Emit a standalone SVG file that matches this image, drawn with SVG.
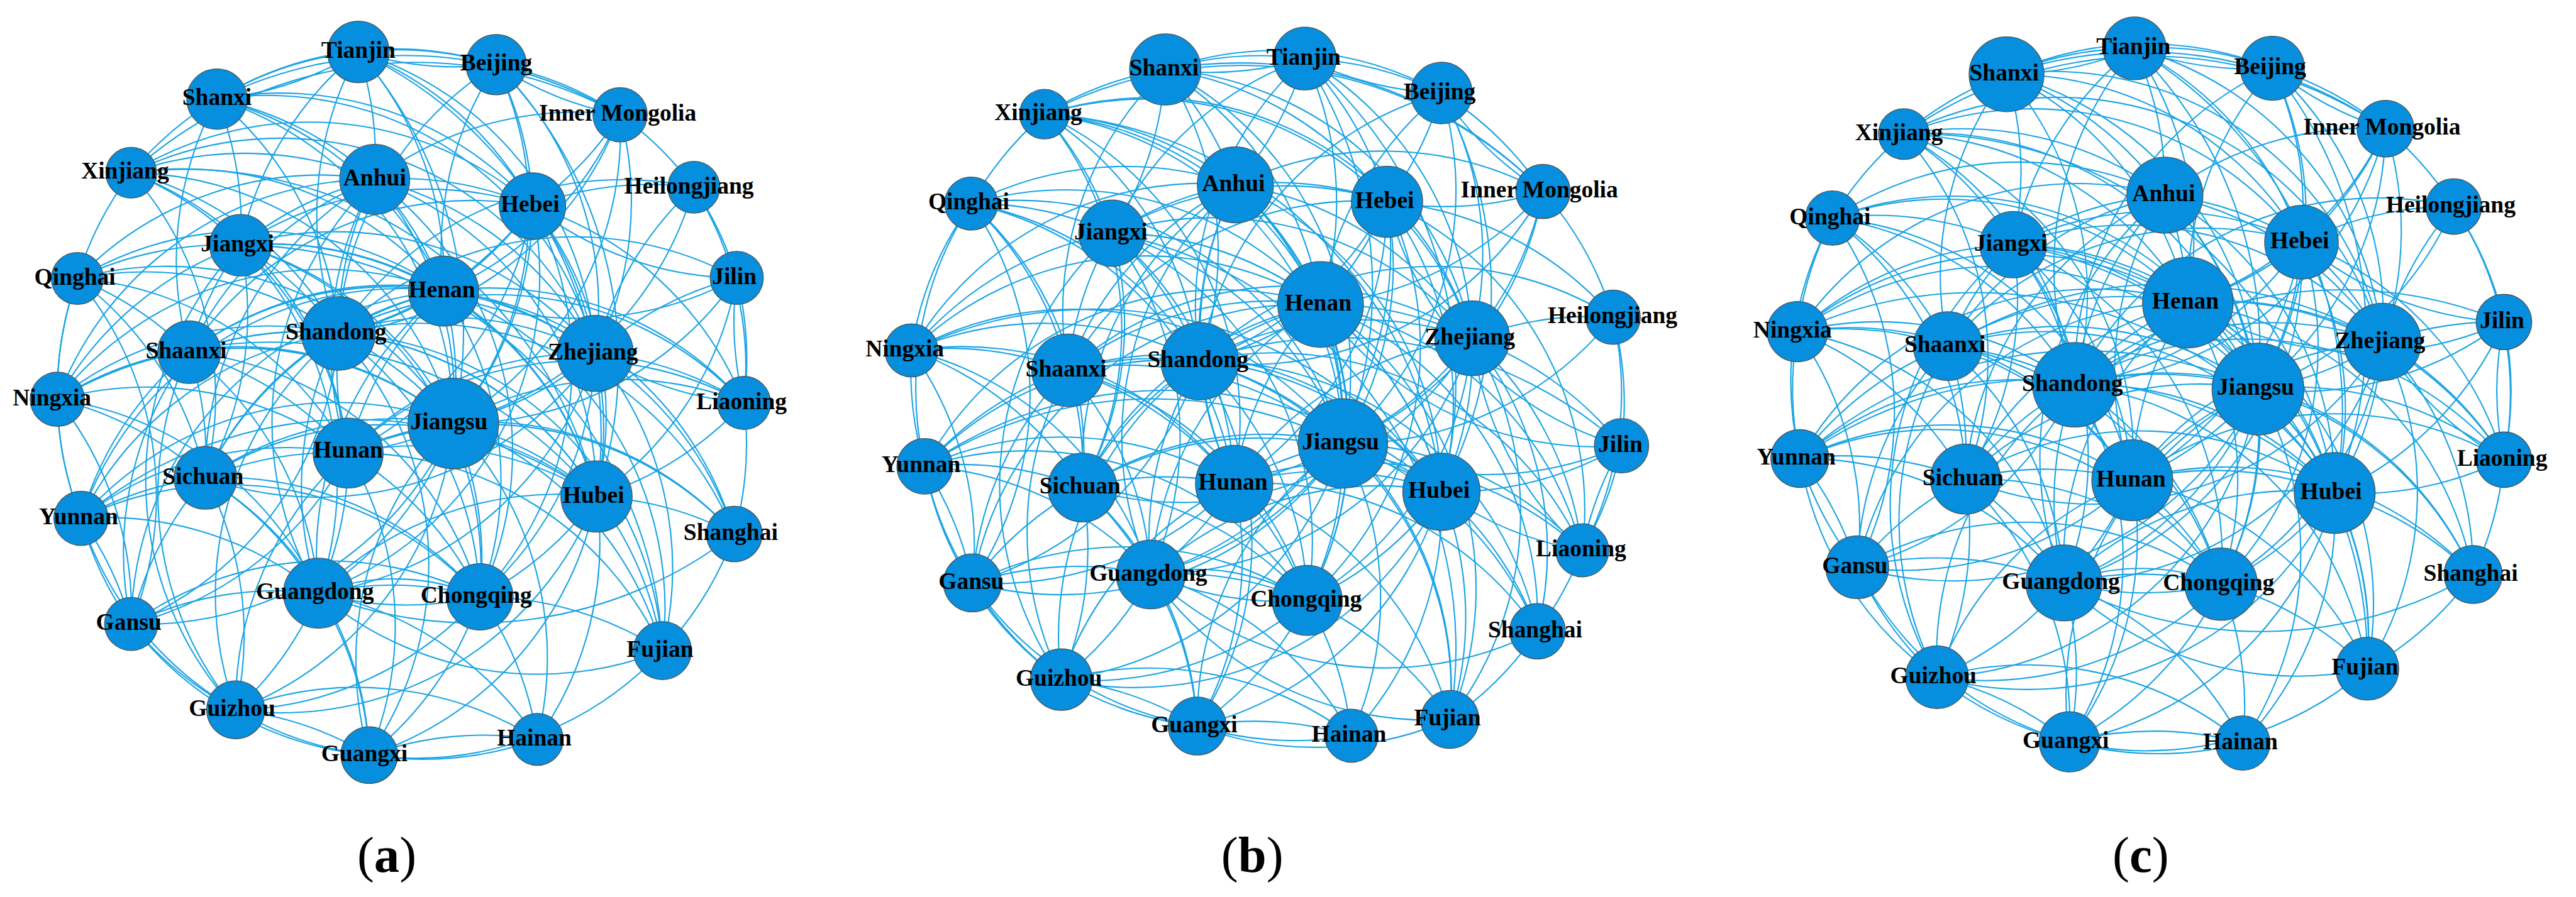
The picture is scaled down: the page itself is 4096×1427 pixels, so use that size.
<svg xmlns="http://www.w3.org/2000/svg" width="4096" height="1427" viewBox="0 0 4096 1427">
<style>
.edges path{fill:none;stroke:#1ba4e4;stroke-width:2.2}
.n circle{fill:#058fde;stroke:#505050;stroke-width:1.3}
.n text{font-family:"Liberation Serif","Times New Roman",serif;font-weight:bold;font-size:39px;text-anchor:middle;fill:#000}
.cap{font-family:"Liberation Serif","Times New Roman",serif;font-size:84px;text-anchor:middle;fill:#000}
</style>
<rect width="4096" height="1427" fill="#fff"/>
<g transform="scale(0.961)">
<g id="edges-a" class="edges">
<path d="M593 86A560 560 0 0 1 821 107"/><path d="M593 86A560 560 0 0 0 821 107"/><path d="M593 86A560 560 0 0 0 359 164"/><path d="M359 164A560 560 0 0 0 593 86"/><path d="M593 86A560 560 0 0 1 620 297"/><path d="M593 86A560 560 0 0 1 881 341"/><path d="M593 86A560 560 0 0 1 734 482"/><path d="M593 86A700 700 0 0 1 750 701"/><path d="M593 86A560 560 0 0 0 560 552"/><path d="M593 86A560 560 0 0 1 985 585"/><path d="M593 86A700 700 0 0 1 987 822"/><path d="M593 86A560 560 0 0 0 398 406"/>
<path d="M821 107A560 560 0 0 1 1026 190"/><path d="M821 107A560 560 0 0 0 1026 190"/><path d="M821 107A560 560 0 0 1 881 341"/><path d="M821 107A560 560 0 0 0 734 482"/><path d="M821 107A560 560 0 0 1 750 701"/><path d="M821 107A560 560 0 0 1 985 585"/><path d="M821 107A560 560 0 0 0 359 164"/><path d="M821 107A560 560 0 0 0 560 552"/><path d="M821 107A700 700 0 0 1 987 822"/>
<path d="M359 164A560 560 0 0 0 217 286"/><path d="M359 164A560 560 0 0 1 620 297"/><path d="M359 164A560 560 0 0 1 881 341"/><path d="M359 164A560 560 0 0 1 398 406"/><path d="M359 164A560 560 0 0 1 734 482"/><path d="M359 164A560 560 0 0 1 560 552"/><path d="M359 164A560 560 0 0 0 313 583"/><path d="M359 164A560 560 0 0 1 750 701"/><path d="M359 164A700 700 0 0 1 1026 190"/><path d="M359 164A560 560 0 0 1 985 585"/>
<path d="M1026 190A560 560 0 0 1 881 341"/><path d="M1026 190A560 560 0 0 0 620 297"/><path d="M1026 190A560 560 0 0 1 734 482"/><path d="M1026 190A560 560 0 0 1 560 552"/><path d="M1026 190A560 560 0 0 1 750 701"/><path d="M1026 190A700 700 0 0 0 217 286"/><path d="M1026 190A560 560 0 0 1 985 585"/><path d="M1026 190A560 560 0 0 1 1148 310"/>
<path d="M217 286A560 560 0 0 1 620 297"/><path d="M217 286A560 560 0 0 1 398 406"/><path d="M217 286A560 560 0 0 1 734 482"/><path d="M217 286A560 560 0 0 1 560 552"/><path d="M217 286A560 560 0 0 1 750 701"/><path d="M217 286A560 560 0 0 1 881 341"/><path d="M217 286A560 560 0 0 0 128 461"/><path d="M217 286A560 560 0 0 1 985 585"/><path d="M217 286A700 700 0 0 1 987 822"/><path d="M217 286A560 560 0 0 1 340 791"/><path d="M217 286A560 560 0 0 1 576 750"/>
<path d="M620 297A560 560 0 0 1 881 341"/><path d="M620 297A560 560 0 0 1 734 482"/><path d="M620 297A560 560 0 0 0 560 552"/><path d="M620 297A560 560 0 0 1 750 701"/><path d="M620 297A560 560 0 0 1 985 585"/><path d="M620 297A560 560 0 0 0 398 406"/><path d="M620 297A560 560 0 0 0 576 750"/><path d="M620 297A560 560 0 0 1 987 822"/><path d="M620 297A560 560 0 0 0 313 583"/><path d="M620 297A560 560 0 0 0 340 791"/><path d="M620 297A560 560 0 0 1 794 988"/><path d="M620 297A560 560 0 0 0 527 982"/><path d="M620 297A560 560 0 0 0 128 461"/><path d="M620 297A560 560 0 0 0 95 661"/>
<path d="M1148 310A560 560 0 0 0 881 341"/><path d="M1148 310A560 560 0 0 1 1219 460"/><path d="M1148 310A560 560 0 0 1 1231 667"/><path d="M1148 310A560 560 0 0 1 750 701"/><path d="M1148 310A560 560 0 0 0 985 585"/><path d="M1148 310A560 560 0 0 0 560 552"/>
<path d="M881 341A560 560 0 0 1 734 482"/><path d="M881 341A560 560 0 0 1 560 552"/><path d="M881 341A560 560 0 0 1 750 701"/><path d="M881 341A560 560 0 0 1 985 585"/><path d="M881 341A560 560 0 0 0 398 406"/><path d="M881 341A560 560 0 0 1 987 822"/><path d="M881 341A560 560 0 0 1 576 750"/><path d="M881 341A560 560 0 0 0 313 583"/><path d="M881 341A560 560 0 0 1 794 988"/><path d="M881 341A560 560 0 0 1 527 982"/><path d="M881 341A560 560 0 0 0 1219 460"/><path d="M881 341A560 560 0 0 1 1231 667"/>
<path d="M398 406A560 560 0 0 1 734 482"/><path d="M398 406A560 560 0 0 1 560 552"/><path d="M398 406A560 560 0 0 1 750 701"/><path d="M398 406A560 560 0 0 1 985 585"/><path d="M398 406A560 560 0 0 1 576 750"/><path d="M398 406A560 560 0 0 1 987 822"/><path d="M398 406A560 560 0 0 0 128 461"/><path d="M398 406A560 560 0 0 0 313 583"/><path d="M398 406A560 560 0 0 1 340 791"/><path d="M398 406A560 560 0 0 1 527 982"/><path d="M398 406A560 560 0 0 1 794 988"/><path d="M398 406A560 560 0 0 0 95 661"/><path d="M398 406A560 560 0 0 0 390 1175"/><path d="M398 406A700 700 0 0 1 1096 1077"/>
<path d="M128 461A560 560 0 0 1 734 482"/><path d="M128 461A560 560 0 0 1 560 552"/><path d="M128 461A560 560 0 0 1 750 701"/><path d="M128 461A560 560 0 0 0 95 661"/><path d="M128 461A560 560 0 0 1 313 583"/><path d="M128 461A560 560 0 0 1 340 791"/><path d="M128 461A560 560 0 0 0 134 858"/><path d="M128 461A560 560 0 0 1 217 1033"/><path d="M128 461A560 560 0 0 1 576 750"/>
<path d="M734 482A560 560 0 0 1 560 552"/><path d="M734 482A560 560 0 0 0 560 552"/><path d="M734 482A560 560 0 0 1 750 701"/><path d="M734 482A560 560 0 0 1 985 585"/><path d="M734 482A560 560 0 0 1 987 822"/><path d="M734 482A560 560 0 0 0 576 750"/><path d="M734 482A560 560 0 0 0 313 583"/><path d="M734 482A560 560 0 0 0 340 791"/><path d="M734 482A560 560 0 0 1 794 988"/><path d="M734 482A560 560 0 0 0 527 982"/><path d="M734 482A560 560 0 0 1 1231 667"/><path d="M734 482A560 560 0 0 0 1219 460"/><path d="M734 482A560 560 0 0 0 95 661"/><path d="M734 482A560 560 0 0 1 1096 1077"/><path d="M734 482A560 560 0 0 1 1215 884"/><path d="M734 482A560 560 0 0 0 134 858"/><path d="M734 482A560 560 0 0 0 217 1033"/>
<path d="M1219 460A560 560 0 0 1 1231 667"/><path d="M1219 460A560 560 0 0 0 1231 667"/><path d="M1219 460A560 560 0 0 0 985 585"/><path d="M1219 460A560 560 0 0 1 750 701"/><path d="M1219 460A560 560 0 0 0 560 552"/><path d="M1219 460A560 560 0 0 1 987 822"/>
<path d="M560 552A560 560 0 0 1 750 701"/><path d="M560 552A560 560 0 0 1 985 585"/><path d="M560 552A560 560 0 0 0 576 750"/><path d="M560 552A560 560 0 0 1 987 822"/><path d="M560 552A560 560 0 0 0 313 583"/><path d="M560 552A560 560 0 0 0 340 791"/><path d="M560 552A560 560 0 0 0 527 982"/><path d="M560 552A560 560 0 0 1 794 988"/><path d="M560 552A560 560 0 0 0 95 661"/><path d="M560 552A560 560 0 0 0 134 858"/><path d="M560 552A560 560 0 0 1 217 1033"/><path d="M560 552A560 560 0 0 1 1231 667"/><path d="M560 552A560 560 0 0 0 390 1175"/><path d="M560 552A560 560 0 0 1 611 1250"/><path d="M560 552A560 560 0 0 1 1096 1077"/><path d="M560 552A560 560 0 0 1 1215 884"/>
<path d="M985 585A560 560 0 0 1 750 701"/><path d="M985 585A560 560 0 0 1 987 822"/><path d="M985 585A560 560 0 0 0 576 750"/><path d="M985 585A560 560 0 0 1 1231 667"/><path d="M985 585A560 560 0 0 0 1231 667"/><path d="M985 585A560 560 0 0 0 313 583"/><path d="M985 585A560 560 0 0 1 340 791"/><path d="M985 585A560 560 0 0 1 794 988"/><path d="M985 585A560 560 0 0 1 527 982"/><path d="M985 585A560 560 0 0 1 1096 1077"/><path d="M985 585A560 560 0 0 1 1215 884"/>
<path d="M313 583A560 560 0 0 1 750 701"/><path d="M313 583A560 560 0 0 1 576 750"/><path d="M313 583A560 560 0 0 1 340 791"/><path d="M313 583A560 560 0 0 0 95 661"/><path d="M313 583A560 560 0 0 0 217 1033"/><path d="M313 583A560 560 0 0 0 134 858"/><path d="M313 583A560 560 0 0 1 527 982"/><path d="M313 583A560 560 0 0 1 794 988"/><path d="M313 583A560 560 0 0 1 987 822"/><path d="M313 583A560 560 0 0 0 390 1175"/>
<path d="M95 661A560 560 0 0 1 750 701"/><path d="M95 661A560 560 0 0 1 576 750"/><path d="M95 661A560 560 0 0 1 340 791"/><path d="M95 661A560 560 0 0 0 134 858"/><path d="M95 661A560 560 0 0 1 217 1033"/><path d="M95 661A700 700 0 0 1 987 822"/><path d="M95 661A560 560 0 0 1 527 982"/>
<path d="M1231 667A560 560 0 0 0 750 701"/><path d="M1231 667A560 560 0 0 1 987 822"/><path d="M1231 667A560 560 0 0 0 576 750"/><path d="M1231 667A560 560 0 0 1 1215 884"/>
<path d="M750 701A560 560 0 0 1 576 750"/><path d="M750 701A560 560 0 0 0 576 750"/><path d="M750 701A560 560 0 0 1 987 822"/><path d="M750 701A560 560 0 0 0 340 791"/><path d="M750 701A560 560 0 0 1 527 982"/><path d="M750 701A560 560 0 0 1 794 988"/><path d="M750 701A560 560 0 0 1 1096 1077"/><path d="M750 701A560 560 0 0 1 1215 884"/><path d="M750 701A560 560 0 0 0 134 858"/><path d="M750 701A560 560 0 0 1 217 1033"/><path d="M750 701A560 560 0 0 1 390 1175"/><path d="M750 701A560 560 0 0 0 611 1250"/><path d="M750 701A560 560 0 0 1 889 1224"/>
<path d="M576 750A560 560 0 0 1 987 822"/><path d="M576 750A560 560 0 0 0 340 791"/><path d="M576 750A560 560 0 0 1 527 982"/><path d="M576 750A560 560 0 0 1 794 988"/><path d="M576 750A560 560 0 0 0 134 858"/><path d="M576 750A560 560 0 0 1 217 1033"/><path d="M576 750A560 560 0 0 0 390 1175"/><path d="M576 750A560 560 0 0 1 611 1250"/><path d="M576 750A560 560 0 0 1 1096 1077"/><path d="M576 750A560 560 0 0 1 1215 884"/>
<path d="M340 791A560 560 0 0 1 987 822"/><path d="M340 791A560 560 0 0 0 134 858"/><path d="M340 791A560 560 0 0 0 217 1033"/><path d="M340 791A560 560 0 0 1 527 982"/><path d="M340 791A560 560 0 0 1 794 988"/><path d="M340 791A560 560 0 0 1 390 1175"/><path d="M340 791A560 560 0 0 1 611 1250"/>
<path d="M987 822A560 560 0 0 1 1215 884"/><path d="M987 822A560 560 0 0 1 1096 1077"/><path d="M987 822A560 560 0 0 1 794 988"/><path d="M987 822A560 560 0 0 0 527 982"/><path d="M987 822A700 700 0 0 0 134 858"/><path d="M987 822A560 560 0 0 1 390 1175"/><path d="M987 822A560 560 0 0 1 611 1250"/><path d="M987 822A560 560 0 0 1 889 1224"/>
<path d="M134 858A560 560 0 0 1 217 1033"/><path d="M134 858A560 560 0 0 0 217 1033"/><path d="M134 858A560 560 0 0 1 527 982"/><path d="M134 858A560 560 0 0 0 390 1175"/><path d="M134 858A560 560 0 0 1 794 988"/>
<path d="M1215 884A560 560 0 0 1 1096 1077"/><path d="M1215 884A700 700 0 0 1 527 982"/>
<path d="M527 982A560 560 0 0 1 794 988"/><path d="M527 982A560 560 0 0 0 794 988"/><path d="M527 982A350 350 0 0 1 794 988"/><path d="M527 982A560 560 0 0 0 217 1033"/><path d="M527 982A560 560 0 0 1 390 1175"/><path d="M527 982A560 560 0 0 1 611 1250"/><path d="M527 982A560 560 0 0 0 1096 1077"/><path d="M527 982A560 560 0 0 1 889 1224"/>
<path d="M794 988A560 560 0 0 1 1096 1077"/><path d="M794 988A560 560 0 0 1 390 1175"/><path d="M794 988A560 560 0 0 1 611 1250"/><path d="M794 988A560 560 0 0 1 889 1224"/><path d="M794 988A560 560 0 0 0 217 1033"/>
<path d="M217 1033A560 560 0 0 0 390 1175"/><path d="M217 1033A560 560 0 0 0 611 1250"/><path d="M1096 1077A560 560 0 0 1 611 1250"/><path d="M390 1175A560 560 0 0 0 611 1250"/><path d="M390 1175A560 560 0 0 1 611 1250"/><path d="M390 1175A560 560 0 0 1 889 1224"/><path d="M611 1250A560 560 0 0 1 889 1224"/><path d="M611 1250A560 560 0 0 0 889 1224"/>
</g>
<g id="edges-b" class="edges">
<path d="M2159 97A560 560 0 0 1 2385 154"/><path d="M2159 97A560 560 0 0 0 2385 154"/><path d="M2159 97A560 560 0 0 0 1928 115"/><path d="M1928 115A560 560 0 0 0 2159 97"/><path d="M2159 97A560 560 0 0 1 2044 306"/><path d="M2159 97A560 560 0 0 1 2295 334"/><path d="M2159 97A560 560 0 0 1 2185 504"/><path d="M2159 97A700 700 0 0 1 2222 734"/><path d="M2159 97A560 560 0 0 0 1985 598"/><path d="M2159 97A560 560 0 0 1 2436 560"/><path d="M2159 97A700 700 0 0 1 2385 814"/><path d="M2159 97A560 560 0 0 0 1840 386"/>
<path d="M2385 154A560 560 0 0 1 2553 317"/><path d="M2385 154A560 560 0 0 0 2553 317"/><path d="M2385 154A560 560 0 0 1 2295 334"/><path d="M2385 154A560 560 0 0 0 2185 504"/><path d="M2385 154A560 560 0 0 1 2222 734"/><path d="M2385 154A560 560 0 0 1 2436 560"/><path d="M2385 154A560 560 0 0 0 1928 115"/><path d="M2385 154A560 560 0 0 0 1985 598"/><path d="M2385 154A700 700 0 0 1 2385 814"/>
<path d="M1928 115A560 560 0 0 0 1728 189"/><path d="M1928 115A560 560 0 0 1 2044 306"/><path d="M1928 115A560 560 0 0 1 2295 334"/><path d="M1928 115A560 560 0 0 1 1840 386"/><path d="M1928 115A560 560 0 0 1 2185 504"/><path d="M1928 115A560 560 0 0 1 1985 598"/><path d="M1928 115A560 560 0 0 0 1767 613"/><path d="M1928 115A560 560 0 0 1 2222 734"/><path d="M1928 115A700 700 0 0 1 2553 317"/><path d="M1928 115A560 560 0 0 1 2436 560"/>
<path d="M2553 317A560 560 0 0 1 2295 334"/><path d="M2553 317A560 560 0 0 0 2044 306"/><path d="M2553 317A560 560 0 0 1 2185 504"/><path d="M2553 317A560 560 0 0 1 1985 598"/><path d="M2553 317A560 560 0 0 1 2222 734"/><path d="M2553 317A700 700 0 0 0 1728 189"/><path d="M2553 317A560 560 0 0 1 2436 560"/><path d="M2553 317A560 560 0 0 1 2669 525"/>
<path d="M1728 189A560 560 0 0 1 2044 306"/><path d="M1728 189A560 560 0 0 1 1840 386"/><path d="M1728 189A560 560 0 0 1 2185 504"/><path d="M1728 189A560 560 0 0 1 1985 598"/><path d="M1728 189A560 560 0 0 1 2222 734"/><path d="M1728 189A560 560 0 0 1 2295 334"/><path d="M1728 189A560 560 0 0 0 1607 337"/><path d="M1728 189A560 560 0 0 1 2436 560"/><path d="M1728 189A700 700 0 0 1 2385 814"/><path d="M1728 189A560 560 0 0 1 1791 807"/><path d="M1728 189A560 560 0 0 1 2042 801"/>
<path d="M2044 306A560 560 0 0 1 2295 334"/><path d="M2044 306A560 560 0 0 1 2185 504"/><path d="M2044 306A560 560 0 0 0 1985 598"/><path d="M2044 306A560 560 0 0 1 2222 734"/><path d="M2044 306A560 560 0 0 1 2436 560"/><path d="M2044 306A560 560 0 0 0 1840 386"/><path d="M2044 306A560 560 0 0 0 2042 801"/><path d="M2044 306A560 560 0 0 1 2385 814"/><path d="M2044 306A560 560 0 0 0 1767 613"/><path d="M2044 306A560 560 0 0 0 1791 807"/><path d="M2044 306A560 560 0 0 1 2163 994"/><path d="M2044 306A560 560 0 0 0 1904 951"/><path d="M2044 306A560 560 0 0 0 1607 337"/><path d="M2044 306A560 560 0 0 0 1508 580"/>
<path d="M2669 525A560 560 0 0 0 2295 334"/><path d="M2669 525A560 560 0 0 1 2683 738"/><path d="M2669 525A560 560 0 0 1 2618 911"/><path d="M2669 525A560 560 0 0 1 2222 734"/><path d="M2669 525A560 560 0 0 0 2436 560"/><path d="M2669 525A560 560 0 0 0 1985 598"/>
<path d="M2295 334A560 560 0 0 1 2185 504"/><path d="M2295 334A560 560 0 0 1 1985 598"/><path d="M2295 334A560 560 0 0 1 2222 734"/><path d="M2295 334A560 560 0 0 1 2436 560"/><path d="M2295 334A560 560 0 0 0 1840 386"/><path d="M2295 334A560 560 0 0 1 2385 814"/><path d="M2295 334A560 560 0 0 1 2042 801"/><path d="M2295 334A560 560 0 0 0 1767 613"/><path d="M2295 334A560 560 0 0 1 2163 994"/><path d="M2295 334A560 560 0 0 1 1904 951"/><path d="M2295 334A560 560 0 0 0 2683 738"/><path d="M2295 334A560 560 0 0 1 2618 911"/>
<path d="M1840 386A560 560 0 0 1 2185 504"/><path d="M1840 386A560 560 0 0 1 1985 598"/><path d="M1840 386A560 560 0 0 1 2222 734"/><path d="M1840 386A560 560 0 0 1 2436 560"/><path d="M1840 386A560 560 0 0 1 2042 801"/><path d="M1840 386A560 560 0 0 1 2385 814"/><path d="M1840 386A560 560 0 0 0 1607 337"/><path d="M1840 386A560 560 0 0 0 1767 613"/><path d="M1840 386A560 560 0 0 1 1791 807"/><path d="M1840 386A560 560 0 0 1 1904 951"/><path d="M1840 386A560 560 0 0 1 2163 994"/><path d="M1840 386A560 560 0 0 0 1508 580"/><path d="M1840 386A560 560 0 0 0 1756 1125"/><path d="M1840 386A700 700 0 0 1 2399 1191"/>
<path d="M1607 337A560 560 0 0 1 2185 504"/><path d="M1607 337A560 560 0 0 1 1985 598"/><path d="M1607 337A560 560 0 0 1 2222 734"/><path d="M1607 337A560 560 0 0 0 1508 580"/><path d="M1607 337A560 560 0 0 1 1767 613"/><path d="M1607 337A560 560 0 0 1 1791 807"/><path d="M1607 337A560 560 0 0 0 1530 772"/><path d="M1607 337A560 560 0 0 1 1609 965"/><path d="M1607 337A560 560 0 0 1 2042 801"/>
<path d="M2185 504A560 560 0 0 1 1985 598"/><path d="M2185 504A560 560 0 0 0 1985 598"/><path d="M2185 504A560 560 0 0 1 2222 734"/><path d="M2185 504A560 560 0 0 1 2436 560"/><path d="M2185 504A560 560 0 0 1 2385 814"/><path d="M2185 504A560 560 0 0 0 2042 801"/><path d="M2185 504A560 560 0 0 0 1767 613"/><path d="M2185 504A560 560 0 0 0 1791 807"/><path d="M2185 504A560 560 0 0 1 2163 994"/><path d="M2185 504A560 560 0 0 0 1904 951"/><path d="M2185 504A560 560 0 0 1 2618 911"/><path d="M2185 504A560 560 0 0 0 2683 738"/><path d="M2185 504A560 560 0 0 0 1508 580"/><path d="M2185 504A560 560 0 0 1 2399 1191"/><path d="M2185 504A560 560 0 0 1 2544 1045"/><path d="M2185 504A560 560 0 0 0 1530 772"/><path d="M2185 504A560 560 0 0 0 1609 965"/>
<path d="M2683 738A560 560 0 0 1 2618 911"/><path d="M2683 738A560 560 0 0 0 2618 911"/><path d="M2683 738A560 560 0 0 0 2436 560"/><path d="M2683 738A560 560 0 0 1 2222 734"/><path d="M2683 738A700 700 0 0 0 1985 598"/><path d="M2683 738A560 560 0 0 1 2385 814"/>
<path d="M1985 598A560 560 0 0 1 2222 734"/><path d="M1985 598A560 560 0 0 1 2436 560"/><path d="M1985 598A560 560 0 0 0 2042 801"/><path d="M1985 598A560 560 0 0 1 2385 814"/><path d="M1985 598A560 560 0 0 0 1767 613"/><path d="M1985 598A560 560 0 0 0 1791 807"/><path d="M1985 598A560 560 0 0 0 1904 951"/><path d="M1985 598A560 560 0 0 1 2163 994"/><path d="M1985 598A560 560 0 0 0 1508 580"/><path d="M1985 598A560 560 0 0 0 1530 772"/><path d="M1985 598A560 560 0 0 1 1609 965"/><path d="M1985 598A560 560 0 0 1 2618 911"/><path d="M1985 598A560 560 0 0 0 1756 1125"/><path d="M1985 598A560 560 0 0 1 1981 1202"/><path d="M1985 598A560 560 0 0 1 2399 1191"/><path d="M1985 598A560 560 0 0 1 2544 1045"/>
<path d="M2436 560A560 560 0 0 1 2222 734"/><path d="M2436 560A560 560 0 0 1 2385 814"/><path d="M2436 560A560 560 0 0 0 2042 801"/><path d="M2436 560A560 560 0 0 1 2618 911"/><path d="M2436 560A560 560 0 0 0 2618 911"/><path d="M2436 560A560 560 0 0 0 1767 613"/><path d="M2436 560A560 560 0 0 1 1791 807"/><path d="M2436 560A560 560 0 0 1 2163 994"/><path d="M2436 560A560 560 0 0 1 1904 951"/><path d="M2436 560A560 560 0 0 1 2399 1191"/><path d="M2436 560A560 560 0 0 1 2544 1045"/>
<path d="M1767 613A560 560 0 0 1 2222 734"/><path d="M1767 613A560 560 0 0 1 2042 801"/><path d="M1767 613A560 560 0 0 1 1791 807"/><path d="M1767 613A560 560 0 0 0 1508 580"/><path d="M1767 613A560 560 0 0 0 1609 965"/><path d="M1767 613A560 560 0 0 0 1530 772"/><path d="M1767 613A560 560 0 0 1 1904 951"/><path d="M1767 613A560 560 0 0 1 2163 994"/><path d="M1767 613A560 560 0 0 1 2385 814"/><path d="M1767 613A560 560 0 0 0 1756 1125"/>
<path d="M1508 580A560 560 0 0 1 2222 734"/><path d="M1508 580A560 560 0 0 1 2042 801"/><path d="M1508 580A560 560 0 0 1 1791 807"/><path d="M1508 580A560 560 0 0 0 1530 772"/><path d="M1508 580A560 560 0 0 1 1609 965"/><path d="M1508 580A700 700 0 0 1 2385 814"/><path d="M1508 580A560 560 0 0 1 1904 951"/>
<path d="M2618 911A560 560 0 0 0 2222 734"/><path d="M2618 911A560 560 0 0 1 2385 814"/><path d="M2618 911A560 560 0 0 0 2042 801"/><path d="M2618 911A560 560 0 0 1 2544 1045"/>
<path d="M2222 734A560 560 0 0 1 2042 801"/><path d="M2222 734A560 560 0 0 0 2042 801"/><path d="M2222 734A560 560 0 0 1 2385 814"/><path d="M2222 734A560 560 0 0 0 1791 807"/><path d="M2222 734A560 560 0 0 1 1904 951"/><path d="M2222 734A560 560 0 0 1 2163 994"/><path d="M2222 734A560 560 0 0 1 2399 1191"/><path d="M2222 734A560 560 0 0 1 2544 1045"/><path d="M2222 734A700 700 0 0 0 1530 772"/><path d="M2222 734A560 560 0 0 1 1609 965"/><path d="M2222 734A560 560 0 0 1 1756 1125"/><path d="M2222 734A560 560 0 0 0 1981 1202"/><path d="M2222 734A560 560 0 0 1 2236 1218"/>
<path d="M2042 801A560 560 0 0 1 2385 814"/><path d="M2042 801A560 560 0 0 0 1791 807"/><path d="M2042 801A560 560 0 0 1 1904 951"/><path d="M2042 801A560 560 0 0 1 2163 994"/><path d="M2042 801A560 560 0 0 0 1530 772"/><path d="M2042 801A560 560 0 0 1 1609 965"/><path d="M2042 801A560 560 0 0 0 1756 1125"/><path d="M2042 801A560 560 0 0 1 1981 1202"/><path d="M2042 801A560 560 0 0 1 2399 1191"/><path d="M2042 801A560 560 0 0 1 2544 1045"/>
<path d="M1791 807A560 560 0 0 1 2385 814"/><path d="M1791 807A560 560 0 0 0 1530 772"/><path d="M1791 807A560 560 0 0 0 1609 965"/><path d="M1791 807A560 560 0 0 1 1904 951"/><path d="M1791 807A560 560 0 0 1 2163 994"/><path d="M1791 807A560 560 0 0 1 1756 1125"/><path d="M1791 807A560 560 0 0 1 1981 1202"/>
<path d="M2385 814A560 560 0 0 1 2544 1045"/><path d="M2385 814A560 560 0 0 1 2399 1191"/><path d="M2385 814A560 560 0 0 1 2163 994"/><path d="M2385 814A560 560 0 0 0 1904 951"/><path d="M2385 814A700 700 0 0 0 1530 772"/><path d="M2385 814A560 560 0 0 1 1756 1125"/><path d="M2385 814A560 560 0 0 1 1981 1202"/><path d="M2385 814A560 560 0 0 1 2236 1218"/>
<path d="M1530 772A560 560 0 0 1 1609 965"/><path d="M1530 772A560 560 0 0 0 1609 965"/><path d="M1530 772A560 560 0 0 1 1904 951"/><path d="M1530 772A560 560 0 0 0 1756 1125"/><path d="M1530 772A560 560 0 0 1 2163 994"/>
<path d="M2544 1045A560 560 0 0 1 2399 1191"/><path d="M2544 1045A560 560 0 0 1 1904 951"/>
<path d="M1904 951A560 560 0 0 1 2163 994"/><path d="M1904 951A560 560 0 0 0 2163 994"/><path d="M1904 951A350 350 0 0 1 2163 994"/><path d="M1904 951A560 560 0 0 0 1609 965"/><path d="M1904 951A560 560 0 0 1 1756 1125"/><path d="M1904 951A560 560 0 0 1 1981 1202"/><path d="M1904 951A560 560 0 0 0 2399 1191"/><path d="M1904 951A560 560 0 0 1 2236 1218"/>
<path d="M2163 994A560 560 0 0 1 2399 1191"/><path d="M2163 994A560 560 0 0 1 1756 1125"/><path d="M2163 994A560 560 0 0 1 1981 1202"/><path d="M2163 994A560 560 0 0 1 2236 1218"/><path d="M2163 994A560 560 0 0 0 1609 965"/>
<path d="M1609 965A560 560 0 0 0 1756 1125"/><path d="M1609 965A560 560 0 0 0 1981 1202"/><path d="M2399 1191A560 560 0 0 1 1981 1202"/><path d="M1756 1125A560 560 0 0 0 1981 1202"/><path d="M1756 1125A560 560 0 0 1 1981 1202"/><path d="M1756 1125A560 560 0 0 1 2236 1218"/><path d="M1981 1202A560 560 0 0 1 2236 1218"/><path d="M1981 1202A560 560 0 0 0 2236 1218"/>
</g>
<g id="edges-c" class="edges">
<path d="M3532 80A560 560 0 0 1 3760 113"/><path d="M3532 80A560 560 0 0 0 3760 113"/><path d="M3532 80A560 560 0 0 0 3320 123"/><path d="M3320 123A560 560 0 0 0 3532 80"/><path d="M3532 80A560 560 0 0 1 3582 323"/><path d="M3532 80A560 560 0 0 1 3808 401"/><path d="M3532 80A560 560 0 0 1 3620 501"/><path d="M3532 80A700 700 0 0 1 3736 644"/><path d="M3532 80A560 560 0 0 0 3433 637"/><path d="M3532 80A560 560 0 0 1 3942 566"/><path d="M3532 80A700 700 0 0 1 3863 816"/><path d="M3532 80A560 560 0 0 0 3331 405"/>
<path d="M3760 113A560 560 0 0 1 3947 213"/><path d="M3760 113A560 560 0 0 0 3947 213"/><path d="M3760 113A560 560 0 0 1 3808 401"/><path d="M3760 113A560 560 0 0 0 3620 501"/><path d="M3760 113A560 560 0 0 1 3736 644"/><path d="M3760 113A560 560 0 0 1 3942 566"/><path d="M3760 113A560 560 0 0 0 3320 123"/><path d="M3760 113A560 560 0 0 0 3433 637"/><path d="M3760 113A700 700 0 0 1 3863 816"/>
<path d="M3320 123A560 560 0 0 0 3150 222"/><path d="M3320 123A560 560 0 0 1 3582 323"/><path d="M3320 123A560 560 0 0 1 3808 401"/><path d="M3320 123A560 560 0 0 1 3331 405"/><path d="M3320 123A560 560 0 0 1 3620 501"/><path d="M3320 123A560 560 0 0 1 3433 637"/><path d="M3320 123A560 560 0 0 0 3223 573"/><path d="M3320 123A560 560 0 0 1 3736 644"/><path d="M3320 123A700 700 0 0 1 3947 213"/><path d="M3320 123A560 560 0 0 1 3942 566"/>
<path d="M3947 213A560 560 0 0 1 3808 401"/><path d="M3947 213A560 560 0 0 0 3582 323"/><path d="M3947 213A560 560 0 0 1 3620 501"/><path d="M3947 213A560 560 0 0 1 3433 637"/><path d="M3947 213A560 560 0 0 1 3736 644"/><path d="M3947 213A700 700 0 0 0 3150 222"/><path d="M3947 213A560 560 0 0 1 3942 566"/><path d="M3947 213A560 560 0 0 1 4060 342"/>
<path d="M3150 222A560 560 0 0 1 3582 323"/><path d="M3150 222A560 560 0 0 1 3331 405"/><path d="M3150 222A560 560 0 0 1 3620 501"/><path d="M3150 222A560 560 0 0 1 3433 637"/><path d="M3150 222A560 560 0 0 1 3736 644"/><path d="M3150 222A560 560 0 0 1 3808 401"/><path d="M3150 222A560 560 0 0 0 3032 361"/><path d="M3150 222A560 560 0 0 1 3942 566"/><path d="M3150 222A700 700 0 0 1 3863 816"/><path d="M3150 222A560 560 0 0 1 3252 793"/><path d="M3150 222A560 560 0 0 1 3528 795"/>
<path d="M3582 323A560 560 0 0 1 3808 401"/><path d="M3582 323A560 560 0 0 1 3620 501"/><path d="M3582 323A560 560 0 0 0 3433 637"/><path d="M3582 323A560 560 0 0 1 3736 644"/><path d="M3582 323A560 560 0 0 1 3942 566"/><path d="M3582 323A560 560 0 0 0 3331 405"/><path d="M3582 323A560 560 0 0 0 3528 795"/><path d="M3582 323A560 560 0 0 1 3863 816"/><path d="M3582 323A560 560 0 0 0 3223 573"/><path d="M3582 323A560 560 0 0 0 3252 793"/><path d="M3582 323A560 560 0 0 1 3675 967"/><path d="M3582 323A560 560 0 0 0 3415 965"/><path d="M3582 323A560 560 0 0 0 3032 361"/><path d="M3582 323A560 560 0 0 0 2974 549"/>
<path d="M4060 342A560 560 0 0 0 3808 401"/><path d="M4060 342A560 560 0 0 1 4143 533"/><path d="M4060 342A560 560 0 0 1 4143 761"/><path d="M4060 342A560 560 0 0 1 3736 644"/><path d="M4060 342A560 560 0 0 0 3942 566"/><path d="M4060 342A560 560 0 0 0 3433 637"/>
<path d="M3808 401A560 560 0 0 1 3620 501"/><path d="M3808 401A560 560 0 0 1 3433 637"/><path d="M3808 401A560 560 0 0 1 3736 644"/><path d="M3808 401A560 560 0 0 1 3942 566"/><path d="M3808 401A560 560 0 0 0 3331 405"/><path d="M3808 401A560 560 0 0 1 3863 816"/><path d="M3808 401A560 560 0 0 1 3528 795"/><path d="M3808 401A560 560 0 0 0 3223 573"/><path d="M3808 401A560 560 0 0 1 3675 967"/><path d="M3808 401A560 560 0 0 1 3415 965"/><path d="M3808 401A560 560 0 0 0 4143 533"/><path d="M3808 401A560 560 0 0 1 4143 761"/>
<path d="M3331 405A560 560 0 0 1 3620 501"/><path d="M3331 405A560 560 0 0 1 3433 637"/><path d="M3331 405A560 560 0 0 1 3736 644"/><path d="M3331 405A560 560 0 0 1 3942 566"/><path d="M3331 405A560 560 0 0 1 3528 795"/><path d="M3331 405A560 560 0 0 1 3863 816"/><path d="M3331 405A560 560 0 0 0 3032 361"/><path d="M3331 405A560 560 0 0 0 3223 573"/><path d="M3331 405A560 560 0 0 1 3252 793"/><path d="M3331 405A560 560 0 0 1 3415 965"/><path d="M3331 405A560 560 0 0 1 3675 967"/><path d="M3331 405A560 560 0 0 0 2974 549"/><path d="M3331 405A560 560 0 0 0 3205 1121"/><path d="M3331 405A700 700 0 0 1 3917 1107"/>
<path d="M3032 361A560 560 0 0 1 3620 501"/><path d="M3032 361A560 560 0 0 1 3433 637"/><path d="M3032 361A560 560 0 0 1 3736 644"/><path d="M3032 361A560 560 0 0 0 2974 549"/><path d="M3032 361A560 560 0 0 1 3223 573"/><path d="M3032 361A560 560 0 0 1 3252 793"/><path d="M3032 361A560 560 0 0 0 2978 759"/><path d="M3032 361A560 560 0 0 1 3073 939"/><path d="M3032 361A560 560 0 0 1 3528 795"/>
<path d="M3620 501A560 560 0 0 1 3433 637"/><path d="M3620 501A560 560 0 0 0 3433 637"/><path d="M3620 501A560 560 0 0 1 3736 644"/><path d="M3620 501A560 560 0 0 1 3942 566"/><path d="M3620 501A560 560 0 0 1 3863 816"/><path d="M3620 501A560 560 0 0 0 3528 795"/><path d="M3620 501A560 560 0 0 0 3223 573"/><path d="M3620 501A560 560 0 0 0 3252 793"/><path d="M3620 501A560 560 0 0 1 3675 967"/><path d="M3620 501A560 560 0 0 0 3415 965"/><path d="M3620 501A560 560 0 0 1 4143 761"/><path d="M3620 501A560 560 0 0 0 4143 533"/><path d="M3620 501A560 560 0 0 0 2974 549"/><path d="M3620 501A560 560 0 0 1 3917 1107"/><path d="M3620 501A560 560 0 0 1 4092 951"/><path d="M3620 501A560 560 0 0 0 2978 759"/><path d="M3620 501A560 560 0 0 0 3073 939"/>
<path d="M4143 533A560 560 0 0 1 4143 761"/><path d="M4143 533A560 560 0 0 0 4143 761"/><path d="M4143 533A560 560 0 0 0 3942 566"/><path d="M4143 533A560 560 0 0 1 3736 644"/><path d="M4143 533A700 700 0 0 0 3433 637"/><path d="M4143 533A560 560 0 0 1 3863 816"/>
<path d="M3433 637A560 560 0 0 1 3736 644"/><path d="M3433 637A560 560 0 0 1 3942 566"/><path d="M3433 637A560 560 0 0 0 3528 795"/><path d="M3433 637A560 560 0 0 1 3863 816"/><path d="M3433 637A560 560 0 0 0 3223 573"/><path d="M3433 637A560 560 0 0 0 3252 793"/><path d="M3433 637A560 560 0 0 0 3415 965"/><path d="M3433 637A560 560 0 0 1 3675 967"/><path d="M3433 637A560 560 0 0 0 2974 549"/><path d="M3433 637A560 560 0 0 0 2978 759"/><path d="M3433 637A560 560 0 0 1 3073 939"/><path d="M3433 637A560 560 0 0 1 4143 761"/><path d="M3433 637A560 560 0 0 0 3205 1121"/><path d="M3433 637A560 560 0 0 1 3424 1228"/><path d="M3433 637A560 560 0 0 1 3917 1107"/><path d="M3433 637A560 560 0 0 1 4092 951"/>
<path d="M3942 566A560 560 0 0 1 3736 644"/><path d="M3942 566A560 560 0 0 1 3863 816"/><path d="M3942 566A560 560 0 0 0 3528 795"/><path d="M3942 566A560 560 0 0 1 4143 761"/><path d="M3942 566A560 560 0 0 0 4143 761"/><path d="M3942 566A700 700 0 0 0 3223 573"/><path d="M3942 566A560 560 0 0 1 3252 793"/><path d="M3942 566A560 560 0 0 1 3675 967"/><path d="M3942 566A560 560 0 0 1 3415 965"/><path d="M3942 566A560 560 0 0 1 3917 1107"/><path d="M3942 566A560 560 0 0 1 4092 951"/>
<path d="M3223 573A560 560 0 0 1 3736 644"/><path d="M3223 573A560 560 0 0 1 3528 795"/><path d="M3223 573A560 560 0 0 1 3252 793"/><path d="M3223 573A560 560 0 0 0 2974 549"/><path d="M3223 573A560 560 0 0 0 3073 939"/><path d="M3223 573A560 560 0 0 0 2978 759"/><path d="M3223 573A560 560 0 0 1 3415 965"/><path d="M3223 573A560 560 0 0 1 3675 967"/><path d="M3223 573A560 560 0 0 1 3863 816"/><path d="M3223 573A560 560 0 0 0 3205 1121"/>
<path d="M2974 549A560 560 0 0 1 3736 644"/><path d="M2974 549A560 560 0 0 1 3528 795"/><path d="M2974 549A560 560 0 0 1 3252 793"/><path d="M2974 549A560 560 0 0 0 2978 759"/><path d="M2974 549A560 560 0 0 1 3073 939"/><path d="M2974 549A700 700 0 0 1 3863 816"/><path d="M2974 549A560 560 0 0 1 3415 965"/>
<path d="M4143 761A560 560 0 0 0 3736 644"/><path d="M4143 761A560 560 0 0 1 3863 816"/><path d="M4143 761A560 560 0 0 0 3528 795"/><path d="M4143 761A560 560 0 0 1 4092 951"/>
<path d="M3736 644A560 560 0 0 1 3528 795"/><path d="M3736 644A560 560 0 0 0 3528 795"/><path d="M3736 644A560 560 0 0 1 3863 816"/><path d="M3736 644A560 560 0 0 0 3252 793"/><path d="M3736 644A560 560 0 0 1 3415 965"/><path d="M3736 644A560 560 0 0 1 3675 967"/><path d="M3736 644A560 560 0 0 1 3917 1107"/><path d="M3736 644A560 560 0 0 1 4092 951"/><path d="M3736 644A700 700 0 0 0 2978 759"/><path d="M3736 644A560 560 0 0 1 3073 939"/><path d="M3736 644A560 560 0 0 1 3205 1121"/><path d="M3736 644A560 560 0 0 0 3424 1228"/><path d="M3736 644A560 560 0 0 1 3711 1230"/>
<path d="M3528 795A560 560 0 0 1 3863 816"/><path d="M3528 795A560 560 0 0 0 3252 793"/><path d="M3528 795A560 560 0 0 1 3415 965"/><path d="M3528 795A560 560 0 0 1 3675 967"/><path d="M3528 795A560 560 0 0 0 2978 759"/><path d="M3528 795A560 560 0 0 1 3073 939"/><path d="M3528 795A560 560 0 0 0 3205 1121"/><path d="M3528 795A560 560 0 0 1 3424 1228"/><path d="M3528 795A560 560 0 0 1 3917 1107"/><path d="M3528 795A560 560 0 0 1 4092 951"/>
<path d="M3252 793A560 560 0 0 1 3863 816"/><path d="M3252 793A560 560 0 0 0 2978 759"/><path d="M3252 793A560 560 0 0 0 3073 939"/><path d="M3252 793A560 560 0 0 1 3415 965"/><path d="M3252 793A560 560 0 0 1 3675 967"/><path d="M3252 793A560 560 0 0 1 3205 1121"/><path d="M3252 793A560 560 0 0 1 3424 1228"/>
<path d="M3863 816A560 560 0 0 1 4092 951"/><path d="M3863 816A560 560 0 0 1 3917 1107"/><path d="M3863 816A560 560 0 0 1 3675 967"/><path d="M3863 816A560 560 0 0 0 3415 965"/><path d="M3863 816A700 700 0 0 0 2978 759"/><path d="M3863 816A560 560 0 0 1 3205 1121"/><path d="M3863 816A560 560 0 0 1 3424 1228"/><path d="M3863 816A560 560 0 0 1 3711 1230"/>
<path d="M2978 759A560 560 0 0 1 3073 939"/><path d="M2978 759A560 560 0 0 0 3073 939"/><path d="M2978 759A560 560 0 0 1 3415 965"/><path d="M2978 759A560 560 0 0 0 3205 1121"/><path d="M2978 759A560 560 0 0 1 3675 967"/>
<path d="M4092 951A560 560 0 0 1 3917 1107"/><path d="M4092 951A700 700 0 0 1 3415 965"/>
<path d="M3415 965A560 560 0 0 1 3675 967"/><path d="M3415 965A560 560 0 0 0 3675 967"/><path d="M3415 965A350 350 0 0 1 3675 967"/><path d="M3415 965A560 560 0 0 0 3073 939"/><path d="M3415 965A560 560 0 0 1 3205 1121"/><path d="M3415 965A560 560 0 0 1 3424 1228"/><path d="M3415 965A560 560 0 0 0 3917 1107"/><path d="M3415 965A560 560 0 0 1 3711 1230"/>
<path d="M3675 967A560 560 0 0 1 3917 1107"/><path d="M3675 967A560 560 0 0 1 3205 1121"/><path d="M3675 967A560 560 0 0 1 3424 1228"/><path d="M3675 967A560 560 0 0 1 3711 1230"/><path d="M3675 967A560 560 0 0 0 3073 939"/>
<path d="M3073 939A560 560 0 0 0 3205 1121"/><path d="M3073 939A560 560 0 0 0 3424 1228"/><path d="M3917 1107A560 560 0 0 1 3424 1228"/><path d="M3205 1121A560 560 0 0 0 3424 1228"/><path d="M3205 1121A560 560 0 0 1 3424 1228"/><path d="M3205 1121A560 560 0 0 1 3711 1230"/><path d="M3424 1228A560 560 0 0 1 3711 1230"/><path d="M3424 1228A560 560 0 0 0 3711 1230"/>
</g>
<g id="nodes-a">
<g id="a-tianjin" class="n"><circle cx="593" cy="86" r="51"/><text x="593" y="96">Tianjin</text></g>
<g id="a-beijing" class="n"><circle cx="821" cy="107" r="50"/><text x="821" y="117">Beijing</text></g>
<g id="a-shanxi" class="n"><circle cx="359" cy="164" r="50"/><text x="359" y="174">Shanxi</text></g>
<g id="a-innermongolia" class="n"><circle cx="1026" cy="190" r="45"/><text x="1022" y="200">Inner Mongolia</text></g>
<g id="a-xinjiang" class="n"><circle cx="217" cy="286" r="42"/><text x="207" y="296">Xinjiang</text></g>
<g id="a-anhui" class="n"><circle cx="620" cy="297" r="58"/><text x="620" y="307">Anhui</text></g>
<g id="a-heilongjiang" class="n"><circle cx="1148" cy="310" r="43"/><text x="1140" y="320">Heilongjiang</text></g>
<g id="a-hebei" class="n"><circle cx="881" cy="341" r="55"/><text x="877" y="351">Hebei</text></g>
<g id="a-jiangxi" class="n"><circle cx="398" cy="406" r="51"/><text x="393" y="416">Jiangxi</text></g>
<g id="a-qinghai" class="n"><circle cx="128" cy="461" r="43"/><text x="124" y="471">Qinghai</text></g>
<g id="a-henan" class="n"><circle cx="734" cy="482" r="58"/><text x="731" y="492">Henan</text></g>
<g id="a-jilin" class="n"><circle cx="1219" cy="460" r="44"/><text x="1215" y="470">Jilin</text></g>
<g id="a-shandong" class="n"><circle cx="560" cy="552" r="61"/><text x="556" y="562">Shandong</text></g>
<g id="a-zhejiang" class="n"><circle cx="985" cy="585" r="63"/><text x="981" y="595">Zhejiang</text></g>
<g id="a-shaanxi" class="n"><circle cx="313" cy="583" r="52"/><text x="308" y="593">Shaanxi</text></g>
<g id="a-ningxia" class="n"><circle cx="95" cy="661" r="45"/><text x="86" y="671">Ningxia</text></g>
<g id="a-liaoning" class="n"><circle cx="1231" cy="667" r="44"/><text x="1227" y="677">Liaoning</text></g>
<g id="a-jiangsu" class="n"><circle cx="750" cy="701" r="75"/><text x="743" y="711">Jiangsu</text></g>
<g id="a-hunan" class="n"><circle cx="576" cy="750" r="58"/><text x="576" y="758">Hunan</text></g>
<g id="a-sichuan" class="n"><circle cx="340" cy="791" r="52"/><text x="336" y="801">Sichuan</text></g>
<g id="a-hubei" class="n"><circle cx="987" cy="822" r="59"/><text x="982" y="832">Hubei</text></g>
<g id="a-yunnan" class="n"><circle cx="134" cy="858" r="45"/><text x="130" y="868">Yunnan</text></g>
<g id="a-shanghai" class="n"><circle cx="1215" cy="884" r="46"/><text x="1209" y="894">Shanghai</text></g>
<g id="a-guangdong" class="n"><circle cx="527" cy="982" r="58"/><text x="521" y="992">Guangdong</text></g>
<g id="a-chongqing" class="n"><circle cx="794" cy="988" r="55"/><text x="788" y="998">Chongqing</text></g>
<g id="a-gansu" class="n"><circle cx="217" cy="1033" r="44"/><text x="213" y="1043">Gansu</text></g>
<g id="a-fujian" class="n"><circle cx="1096" cy="1077" r="48"/><text x="1092" y="1087">Fujian</text></g>
<g id="a-guizhou" class="n"><circle cx="390" cy="1175" r="48"/><text x="384" y="1185">Guizhou</text></g>
<g id="a-hainan" class="n"><circle cx="889" cy="1224" r="43"/><text x="884" y="1234">Hainan</text></g>
<g id="a-guangxi" class="n"><circle cx="611" cy="1250" r="47"/><text x="603" y="1260">Guangxi</text></g>
</g>
<g id="nodes-b">
<g id="b-shanxi" class="n"><circle cx="1928" cy="115" r="59"/><text x="1926" y="125">Shanxi</text></g>
<g id="b-tianjin" class="n"><circle cx="2159" cy="97" r="52"/><text x="2157" y="107">Tianjin</text></g>
<g id="b-beijing" class="n"><circle cx="2385" cy="154" r="51"/><text x="2382" y="164">Beijing</text></g>
<g id="b-xinjiang" class="n"><circle cx="1728" cy="189" r="41"/><text x="1718" y="199">Xinjiang</text></g>
<g id="b-anhui" class="n"><circle cx="2044" cy="306" r="63"/><text x="2041" y="316">Anhui</text></g>
<g id="b-hebei" class="n"><circle cx="2295" cy="334" r="59"/><text x="2291" y="344">Hebei</text></g>
<g id="b-innermongolia" class="n"><circle cx="2553" cy="317" r="45"/><text x="2547" y="327">Inner Mongolia</text></g>
<g id="b-qinghai" class="n"><circle cx="1607" cy="337" r="44"/><text x="1603" y="347">Qinghai</text></g>
<g id="b-jiangxi" class="n"><circle cx="1840" cy="386" r="55"/><text x="1838" y="396">Jiangxi</text></g>
<g id="b-henan" class="n"><circle cx="2185" cy="504" r="71"/><text x="2181" y="514">Henan</text></g>
<g id="b-ningxia" class="n"><circle cx="1508" cy="580" r="44"/><text x="1497" y="590">Ningxia</text></g>
<g id="b-heilongjiang" class="n"><circle cx="2669" cy="525" r="45"/><text x="2668" y="535">Heilongjiang</text></g>
<g id="b-zhejiang" class="n"><circle cx="2436" cy="560" r="62"/><text x="2432" y="570">Zhejiang</text></g>
<g id="b-shandong" class="n"><circle cx="1985" cy="598" r="64"/><text x="1982" y="608">Shandong</text></g>
<g id="b-shaanxi" class="n"><circle cx="1767" cy="613" r="60"/><text x="1764" y="623">Shaanxi</text></g>
<g id="b-jiangsu" class="n"><circle cx="2222" cy="734" r="74"/><text x="2218" y="744">Jiangsu</text></g>
<g id="b-jilin" class="n"><circle cx="2683" cy="738" r="45"/><text x="2681" y="748">Jilin</text></g>
<g id="b-yunnan" class="n"><circle cx="1530" cy="772" r="46"/><text x="1524" y="782">Yunnan</text></g>
<g id="b-sichuan" class="n"><circle cx="1791" cy="807" r="57"/><text x="1787" y="817">Sichuan</text></g>
<g id="b-hunan" class="n"><circle cx="2042" cy="801" r="64"/><text x="2040" y="811">Hunan</text></g>
<g id="b-hubei" class="n"><circle cx="2385" cy="814" r="64"/><text x="2381" y="824">Hubei</text></g>
<g id="b-liaoning" class="n"><circle cx="2618" cy="911" r="44"/><text x="2616" y="921">Liaoning</text></g>
<g id="b-guangdong" class="n"><circle cx="1904" cy="951" r="57"/><text x="1900" y="961">Guangdong</text></g>
<g id="b-chongqing" class="n"><circle cx="2163" cy="994" r="58"/><text x="2161" y="1004">Chongqing</text></g>
<g id="b-gansu" class="n"><circle cx="1609" cy="965" r="48"/><text x="1607" y="975">Gansu</text></g>
<g id="b-shanghai" class="n"><circle cx="2544" cy="1045" r="46"/><text x="2540" y="1055">Shanghai</text></g>
<g id="b-guizhou" class="n"><circle cx="1756" cy="1125" r="51"/><text x="1752" y="1135">Guizhou</text></g>
<g id="b-guangxi" class="n"><circle cx="1981" cy="1202" r="48"/><text x="1976" y="1212">Guangxi</text></g>
<g id="b-hainan" class="n"><circle cx="2236" cy="1218" r="44"/><text x="2232" y="1228">Hainan</text></g>
<g id="b-fujian" class="n"><circle cx="2399" cy="1191" r="48"/><text x="2395" y="1201">Fujian</text></g>
</g>
<g id="nodes-c">
<g id="c-tianjin" class="n"><circle cx="3532" cy="80" r="52"/><text x="3530" y="90">Tianjin</text></g>
<g id="c-shanxi" class="n"><circle cx="3320" cy="123" r="62"/><text x="3316" y="133">Shanxi</text></g>
<g id="c-beijing" class="n"><circle cx="3760" cy="113" r="53"/><text x="3756" y="123">Beijing</text></g>
<g id="c-innermongolia" class="n"><circle cx="3947" cy="213" r="47"/><text x="3941" y="223">Inner Mongolia</text></g>
<g id="c-xinjiang" class="n"><circle cx="3150" cy="222" r="42"/><text x="3142" y="232">Xinjiang</text></g>
<g id="c-anhui" class="n"><circle cx="3582" cy="323" r="63"/><text x="3580" y="333">Anhui</text></g>
<g id="c-heilongjiang" class="n"><circle cx="4060" cy="342" r="46"/><text x="4055" y="352">Heilongjiang</text></g>
<g id="c-qinghai" class="n"><circle cx="3032" cy="361" r="45"/><text x="3028" y="371">Qinghai</text></g>
<g id="c-hebei" class="n"><circle cx="3808" cy="401" r="61"/><text x="3805" y="411">Hebei</text></g>
<g id="c-jiangxi" class="n"><circle cx="3331" cy="405" r="55"/><text x="3327" y="415">Jiangxi</text></g>
<g id="c-henan" class="n"><circle cx="3620" cy="501" r="75"/><text x="3616" y="511">Henan</text></g>
<g id="c-jilin" class="n"><circle cx="4143" cy="533" r="46"/><text x="4140" y="543">Jilin</text></g>
<g id="c-ningxia" class="n"><circle cx="2974" cy="549" r="50"/><text x="2966" y="559">Ningxia</text></g>
<g id="c-shaanxi" class="n"><circle cx="3223" cy="573" r="57"/><text x="3218" y="583">Shaanxi</text></g>
<g id="c-zhejiang" class="n"><circle cx="3942" cy="566" r="64"/><text x="3938" y="576">Zhejiang</text></g>
<g id="c-shandong" class="n"><circle cx="3433" cy="637" r="70"/><text x="3429" y="647">Shandong</text></g>
<g id="c-jiangsu" class="n"><circle cx="3736" cy="644" r="76"/><text x="3732" y="654">Jiangsu</text></g>
<g id="c-yunnan" class="n"><circle cx="2978" cy="759" r="48"/><text x="2972" y="769">Yunnan</text></g>
<g id="c-liaoning" class="n"><circle cx="4143" cy="761" r="46"/><text x="4140" y="771">Liaoning</text></g>
<g id="c-sichuan" class="n"><circle cx="3252" cy="793" r="58"/><text x="3248" y="803">Sichuan</text></g>
<g id="c-hunan" class="n"><circle cx="3528" cy="795" r="67"/><text x="3526" y="805">Hunan</text></g>
<g id="c-hubei" class="n"><circle cx="3863" cy="816" r="67"/><text x="3857" y="826">Hubei</text></g>
<g id="c-gansu" class="n"><circle cx="3073" cy="939" r="52"/><text x="3069" y="949">Gansu</text></g>
<g id="c-shanghai" class="n"><circle cx="4092" cy="951" r="48"/><text x="4088" y="961">Shanghai</text></g>
<g id="c-guangdong" class="n"><circle cx="3415" cy="965" r="63"/><text x="3410" y="975">Guangdong</text></g>
<g id="c-chongqing" class="n"><circle cx="3675" cy="967" r="60"/><text x="3671" y="977">Chongqing</text></g>
<g id="c-fujian" class="n"><circle cx="3917" cy="1107" r="52"/><text x="3913" y="1117">Fujian</text></g>
<g id="c-guizhou" class="n"><circle cx="3205" cy="1121" r="52"/><text x="3199" y="1131">Guizhou</text></g>
<g id="c-guangxi" class="n"><circle cx="3424" cy="1228" r="50"/><text x="3418" y="1238">Guangxi</text></g>
<g id="c-hainan" class="n"><circle cx="3711" cy="1230" r="45"/><text x="3707" y="1240">Hainan</text></g>
</g>
<g id="captions">
<text class="cap" x="640" y="1443">(<tspan font-weight="bold">a</tspan>)</text>
<text class="cap" x="2072" y="1443">(<tspan font-weight="bold">b</tspan>)</text>
<text class="cap" x="3542" y="1443">(<tspan font-weight="bold">c</tspan>)</text>
</g>
</g>
</svg>
